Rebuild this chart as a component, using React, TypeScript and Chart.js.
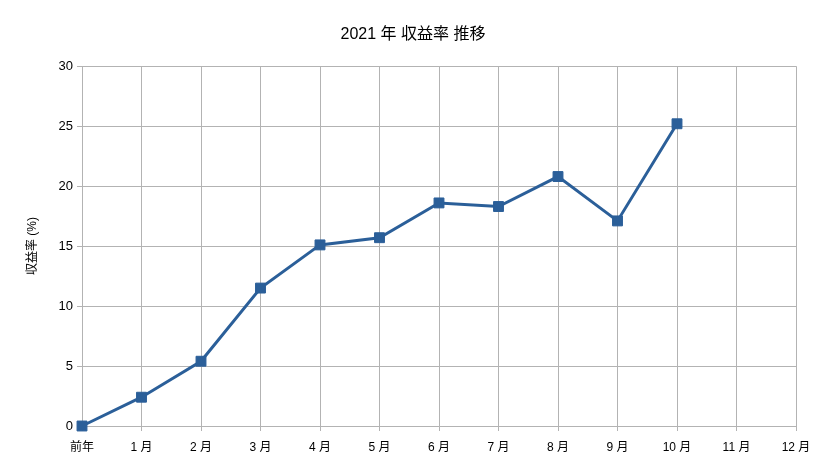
import React, { useEffect, useRef } from "react";
import { Chart, registerables } from "chart.js";

Chart.register(...registerables);

const chartTitle = "2021 年 収益率 推移";
const yAxisTitle = "収益率 (%)";
const categories = ["前年", "1 月", "2 月", "3 月", "4 月", "5 月", "6 月", "7 月", "8 月", "9 月", "10 月", "11 月", "12 月"];
const returnRates: (number | null)[] = [0, 2.4, 5.4, 11.5, 15.1, 15.7, 18.6, 18.3, 20.8, 17.1, 25.2, null, null];
const yTicks = [0, 5, 10, 15, 20, 25, 30];

const FONT = "'Liberation Sans', 'Noto Sans CJK JP', sans-serif";
const LINE = "#2b5f99";
const GRID = "#b3b3b3";

export default function App() {
  const ref = useRef<HTMLCanvasElement | null>(null);
  useEffect(() => {
    document.body.style.margin = "0";
    const canvas = ref.current;
    if (!canvas) return;
    const chart = new Chart(canvas, {
      type: "line",
      data: {
        labels: categories,
        datasets: [
          {
            label: yAxisTitle,
            data: returnRates,
            borderColor: LINE,
            backgroundColor: LINE,
            borderWidth: 3,
            pointStyle: "rect",
            pointRadius: 7,
            pointBorderWidth: 1,
            pointBorderColor: LINE,
            pointBackgroundColor: LINE,
            tension: 0,
            clip: false,
          } as any,
        ],
      },
      options: {
        responsive: false,
        animation: false,
        layout: { padding: { left: 30, right: 30, top: 0, bottom: 0 } },
        plugins: {
          legend: { display: false },
          tooltip: { enabled: false },
          title: {
            display: true,
            text: chartTitle,
            color: "#000",
            font: { family: FONT, size: 16, weight: "normal" },
            padding: { top: 25, bottom: 22 },
          },
        },
        scales: {
          x: {
            offset: false,
            grid: { color: GRID, lineWidth: 1, tickLength: 5, drawTicks: true },
            border: { color: GRID },
            ticks: {
              color: "#000",
              font: { family: FONT, size: 12 },
              padding: 9,
              maxRotation: 0,
              autoSkip: false,
            },
            afterFit: (s: any) => {
              s.height = 37;
            },
          },
          y: {
            min: 0,
            max: 30,
            afterBuildTicks: (s: any) => {
              s.ticks = yTicks.map((v) => ({ value: v }));
            },
            grid: { color: GRID, lineWidth: 1, tickLength: 5, drawTicks: true },
            border: { color: GRID },
            ticks: {
              color: "#000",
              font: { family: FONT, size: 13 },
              padding: 4,
            },
            title: {
              display: true,
              text: yAxisTitle,
              color: "#000",
              font: { family: FONT, size: 12 },
              padding: { top: -5, bottom: 0 },
            },
            afterFit: (s: any) => {
              s.width = 52;
            },
          },
        },
      },
    });
    return () => chart.destroy();
  }, []);
  return <canvas ref={ref} width={826} height={463} style={{ display: "block" }} />;
}
